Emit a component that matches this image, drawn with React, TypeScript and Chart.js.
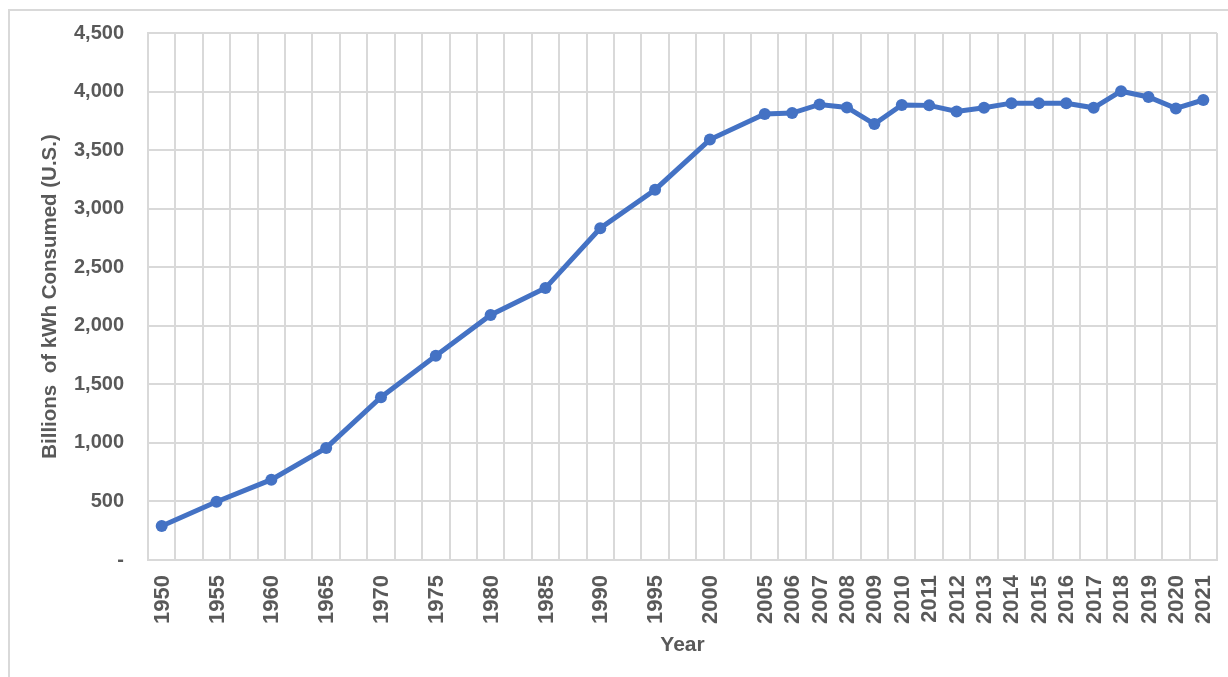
import React, { useEffect, useRef } from "react";
import { Chart, registerables } from "chart.js";

Chart.register(...registerables);

// Categories (blank entries are empty category slots, as in the original chart)
const categories: string[] = [
  "1950", "", "1955", "", "1960", "", "1965", "", "1970", "", "1975", "",
  "1980", "", "1985", "", "1990", "", "1995", "", "2000", "",
  "2005", "2006", "2007", "2008", "2009", "2010", "2011", "2012", "2013",
  "2014", "2015", "2016", "2017", "2018", "2019", "2020", "2021",
];

// Billions of kWh consumed (U.S.); null = empty slot
const consumption: (number | null)[] = [
  291, null, 497, null, 686, null, 957, null, 1390, null, 1745, null,
  2093, null, 2322, null, 2833, null, 3162, null, 3590, null,
  3808, 3816, 3890, 3864, 3722, 3885, 3882, 3830, 3862,
  3901, 3900, 3900, 3861, 4003, 3954, 3856, 3928,
];

const yTicks: number[] = [0, 500, 1000, 1500, 2000, 2500, 3000, 3500, 4000, 4500];

const FONT = "'Liberation Sans', Arial, sans-serif";
const TEXT = "#595959";
const GRID = "#d9d9d9";

const xLabelPlugin = {
  id: "xLabelsRotated",
  afterDraw(chart: any) {
    const scale = chart.scales.x;
    const ctx = chart.ctx;
    ctx.save();
    ctx.font = `bold 22px ${FONT}`;
    ctx.fillStyle = TEXT;
    ctx.textAlign = "right";
    ctx.textBaseline = "middle";
    categories.forEach((lab, i) => {
      if (!lab) return;
      const x = scale.getPixelForValue(i);
      ctx.save();
      ctx.translate(x, chart.chartArea.bottom + 15);
      ctx.rotate(-Math.PI / 2);
      ctx.fillText(lab, 0, 1);
      ctx.restore();
    });
    ctx.restore();
  },
};

export default function App() {
  const ref = useRef<HTMLCanvasElement | null>(null);
  useEffect(() => {
    if (!ref.current) return;
    const chart = new Chart(ref.current, {
      type: "line",
      data: {
        labels: categories,
        datasets: [
          {
            data: consumption,
            borderColor: "#4472C4",
            backgroundColor: "#4472C4",
            borderWidth: 5,
            pointRadius: 6,
            pointBorderWidth: 0,
            pointBackgroundColor: "#4472C4",
            spanGaps: true,
            tension: 0,
          },
        ],
      },
      options: {
        responsive: false,
        animation: false,
        layout: { padding: { left: 0, right: 11, top: 27, bottom: 0 } },
        plugins: { legend: { display: false }, tooltip: { enabled: false } },
        scales: {
          x: {
            type: "category",
            offset: true,
            grid: { offset: true, color: GRID, lineWidth: 2, drawTicks: false },
            border: { color: GRID, width: 2 },
            ticks: { display: false },
            title: {
              display: true,
              text: "Year",
              color: TEXT,
              font: { family: FONT, size: 21, weight: "bold" },
              padding: { top: 0, bottom: 19 },
            },
            afterFit(scale: any) {
              scale.height = 117;
            },
          },
          y: {
            min: 0,
            max: 4500,
            afterBuildTicks(scale: any) {
              scale.ticks = yTicks.map((v) => ({ value: v }));
            },
            grid: { color: GRID, lineWidth: 2, drawTicks: false },
            border: { color: GRID, width: 2 },
            ticks: {
              padding: 24,
              color: TEXT,
              font: { family: FONT, size: 20, weight: "bold" },
              callback: (v: any) => (Number(v) === 0 ? "-" : Number(v).toLocaleString("en-US")),
            },
            title: {
              display: true,
              text: "Billions  of kWh Consumed (U.S.)",
              color: TEXT,
              font: { family: FONT, size: 20.5, weight: "bold" },
              padding: { top: 38, bottom: 0 },
            },
            afterFit(scale: any) {
              scale.width = 148;
            },
          },
        },
      },
      plugins: [xLabelPlugin],
    });
    return () => chart.destroy();
  }, []);

  return (
    <>
      <div
        style={{
          position: "fixed",
          left: 8,
          top: 9,
          width: 1240,
          height: 700,
          borderTop: `2px solid ${GRID}`,
          borderLeft: `2px solid ${GRID}`,
          boxSizing: "border-box",
        }}
      />
      <canvas
        ref={ref}
        width={1228}
        height={680}
        style={{ position: "fixed", left: 0, top: -3, width: 1228, height: 680 }}
      />
    </>
  );
}
